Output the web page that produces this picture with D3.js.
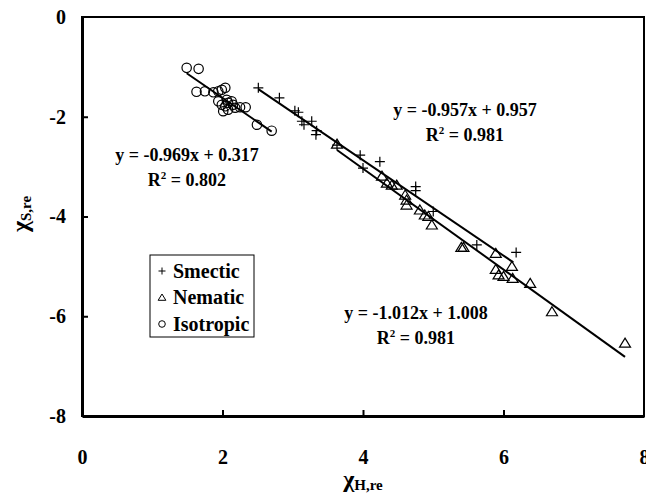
<!DOCTYPE html>
<html>
<head>
<meta charset="utf-8">
<script src="https://cdn.jsdelivr.net/npm/d3@7"></script>
<style>
  body { margin: 0; background: #fff; }
  text { font-family: "Liberation Serif", "Times New Roman", serif; font-weight: bold; fill: #000; }
</style>
</head>
<body>
<svg id="chart"></svg>
<script>
const width = 646;
const height = 494;

// readings
const smecticX = [2.51, 2.81, 3.03, 3.08, 3.13, 3.16, 3.27, 3.34, 3.33, 3.63, 3.96, 4.00, 4.24, 4.75, 4.75, 5.00, 5.62, 6.18];
const smecticY = [-1.42, -1.62, -1.88, -1.91, -2.09, -2.16, -2.09, -2.28, -2.36, -2.57, -2.77, -3.03, -2.90, -3.40, -3.48, -3.90, -4.57, -4.72];

const nematicX = [3.63, 4.27, 4.34, 4.41, 4.48, 4.60, 4.62, 4.62, 4.81, 4.88, 4.93, 4.98, 5.40, 5.43, 5.89, 5.89, 5.93, 6.00, 6.12, 6.13, 6.38, 6.69, 7.73];
const nematicY = [-2.55, -3.19, -3.33, -3.37, -3.37, -3.57, -3.67, -3.77, -3.87, -3.97, -4.00, -4.17, -4.62, -4.62, -4.74, -5.06, -5.17, -5.20, -5.00, -5.24, -5.34, -5.91, -6.54];

const isoX = [1.49, 1.66, 1.63, 1.75, 1.87, 1.94, 1.99, 2.04, 1.94, 1.99, 2.04, 2.08, 2.13, 2.15, 2.08, 2.01, 2.18, 2.25, 2.33, 2.06, 2.49, 2.70];
const isoY = [-1.02, -1.04, -1.50, -1.49, -1.51, -1.49, -1.46, -1.42, -1.69, -1.76, -1.79, -1.72, -1.69, -1.76, -1.86, -1.89, -1.82, -1.81, -1.81, -1.66, -2.16, -2.28];

// trend lines: slope, intercept, x range
const fitNames = ['Smectic', 'Nematic', 'Isotropic'];
const fitSlope = [-0.957, -1.012, -0.969];
const fitIntercept = [0.957, 1.008, 0.317];
const fitR2 = ['0.981', '0.981', '0.802'];
const fitFrom = [2.51, 3.63, 1.49];
const fitTo = [6.14, 7.73, 2.70];

const xTicks = [0, 2, 4, 6, 8];
const yTicks = [0, -2, -4, -6, -8];

const svg = d3.select('#chart').attr('width', width).attr('height', height);

const x = d3.scaleLinear().domain([0, 8]).range([82, 644]);
const y = d3.scaleLinear().domain([-8, 0]).range([416, 17]);

// frame
svg.append('rect')
  .attr('x', x(0)).attr('y', y(0))
  .attr('width', x(8) - x(0)).attr('height', y(-8) - y(0))
  .attr('fill', 'none').attr('stroke', '#000').attr('stroke-width', 2);

// axes with inward ticks
const xAxis = svg.append('g')
  .attr('transform', `translate(0, ${y(-8)})`)
  .call(d3.axisBottom(x).tickValues(xTicks).tickSizeInner(-6).tickSizeOuter(0).tickPadding(34).tickFormat(d3.format('d')));
const yAxis = svg.append('g')
  .attr('transform', `translate(${x(0)}, 0)`)
  .call(d3.axisLeft(y).tickValues(yTicks).tickSizeInner(-6).tickSizeOuter(0).tickPadding(16).tickFormat(d => d === 0 ? '0' : '-' + Math.abs(d)));

[xAxis, yAxis].forEach(a => {
  a.select('.domain').attr('stroke', '#000').attr('stroke-width', 3);
  a.selectAll('.tick line').attr('stroke', '#000').attr('stroke-width', 2);
  a.selectAll('.tick text').attr('font-size', 20).attr('font-family', '"Liberation Serif", serif').attr('font-weight', 'bold');
});
xAxis.selectAll('.tick').filter(d => d === 0 || d === 8).select('line').remove();
yAxis.selectAll('.tick').filter(d => d === 0 || d === -8).select('line').remove();

// axis titles
const xt = svg.append('text').attr('x', 363).attr('y', 487).attr('text-anchor', 'middle');
xt.append('tspan').attr('font-size', 24).text('χ');
xt.append('tspan').attr('font-size', 15).attr('dy', 3).text('H,re');

const yt = svg.append('text').attr('transform', 'translate(28, 214) rotate(-90)').attr('text-anchor', 'middle');
yt.append('tspan').attr('font-size', 24).text('χ');
yt.append('tspan').attr('font-size', 15).attr('dy', 3).text('S,re');

// trend lines
const line = d3.line().x(d => x(d[0])).y(d => y(d[1]));
fitNames.forEach((n, i) => {
  const pts = [fitFrom[i], fitTo[i]].map(v => [v, fitSlope[i] * v + fitIntercept[i]]);
  svg.append('path').datum(pts)
    .attr('d', line).attr('fill', 'none').attr('stroke', '#000').attr('stroke-width', 2);
});

// markers
const plusPath = s => `M${-s},0H${s}M0,${-s}V${s}`;
const triPath = s => `M0,${-s}L${s * 1.1},${s * 0.8}L${-s * 1.1},${s * 0.8}Z`;

svg.append('g').selectAll('path')
  .data(d3.zip(smecticX, smecticY)).enter().append('path')
  .attr('transform', d => `translate(${x(d[0])},${y(d[1])})`)
  .attr('d', plusPath(5)).attr('stroke', '#000').attr('stroke-width', 1.2).attr('fill', 'none');

svg.append('g').selectAll('path')
  .data(d3.zip(nematicX, nematicY)).enter().append('path')
  .attr('transform', d => `translate(${x(d[0])},${y(d[1])})`)
  .attr('d', triPath(5)).attr('stroke', '#000').attr('stroke-width', 1.2).attr('fill', 'none');

svg.append('g').selectAll('circle')
  .data(d3.zip(isoX, isoY)).enter().append('circle')
  .attr('cx', d => x(d[0])).attr('cy', d => y(d[1])).attr('r', 4.7)
  .attr('stroke', '#000').attr('stroke-width', 1.2).attr('fill', 'none');

// equations
const eqPos = [[465, 116], [416, 319], [187, 161]];
fitNames.forEach((n, i) => {
  const sign = fitIntercept[i] >= 0 ? '+' : '-';
  const eq = `y = ${fitSlope[i].toFixed(3)}x ${sign} ${Math.abs(fitIntercept[i]).toFixed(3)}`;
  svg.append('text').attr('x', eqPos[i][0]).attr('y', eqPos[i][1])
    .attr('text-anchor', 'middle').attr('font-size', 18).text(eq);
  const r = svg.append('text').attr('x', eqPos[i][0]).attr('y', eqPos[i][1] + 25)
    .attr('text-anchor', 'middle').attr('font-size', 18);
  r.append('tspan').text('R');
  r.append('tspan').attr('font-size', 11).attr('dy', -7).text('2');
  r.append('tspan').attr('dy', 7).text(' = ' + fitR2[i]);
});

// legend
const legend = svg.append('g').attr('transform', 'translate(150, 255)');
legend.append('rect').attr('width', 104).attr('height', 82)
  .attr('fill', '#fff').attr('stroke', '#000').attr('stroke-width', 1);
fitNames.forEach((n, i) => {
  const cy = 16 + i * 26.5;
  const g = legend.append('g').attr('transform', `translate(12, ${cy})`);
  if (i === 0) g.append('path').attr('d', plusPath(3.5));
  if (i === 1) g.append('path').attr('d', triPath(3.5));
  if (i === 2) g.append('circle').attr('r', 3.3);
  g.selectAll('path, circle').attr('fill', 'none').attr('stroke', '#000').attr('stroke-width', 1);
  legend.append('text').attr('x', 23).attr('y', cy + 6.5).attr('font-size', 20).text(n);
});
</script>
</body>
</html>
